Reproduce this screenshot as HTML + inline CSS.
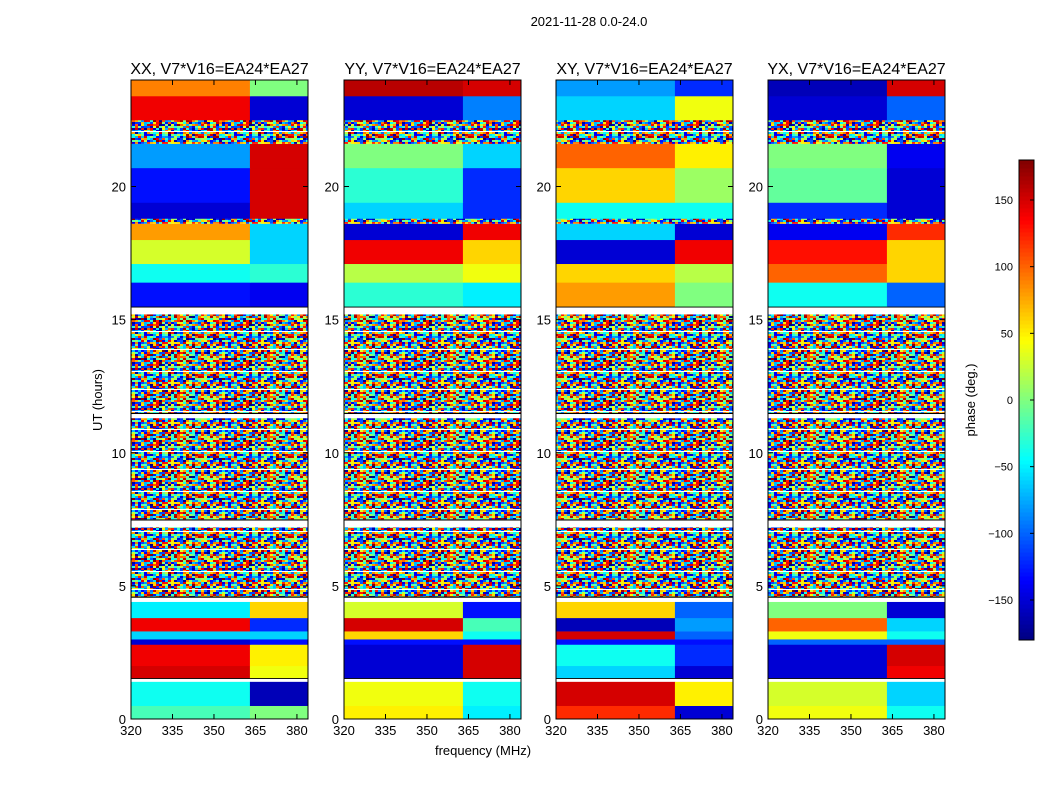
<!DOCTYPE html>
<html><head><meta charset="utf-8"><style>
body{margin:0;background:#fff;}
svg text{font-family:"Liberation Sans",sans-serif;}
</style></head><body>
<svg id="fig" width="1050" height="800" viewBox="0 0 1050 800" xmlns="http://www.w3.org/2000/svg">
<defs id="defs"></defs>
<text x="589" y="26" font-size="13" text-anchor="middle">2021-11-28 0.0-24.0</text>
<text transform="translate(102,400) rotate(-90)" font-size="13" text-anchor="middle">UT (hours)</text>
<text x="483" y="755" font-size="13" text-anchor="middle">frequency (MHz)</text>
<text transform="translate(975,400) rotate(-90)" font-size="13" text-anchor="middle">phase (deg.)</text>
<g id="panels"></g>
<g id="cbar"></g>
</svg>
<script>
const panelNames = ["XX","YY","XY","YX"];
const baseline = "V7*V16=EA24*EA27";
const bandEdges = [0,0.5,1.4,1.55,2.0,2.8,3.0,3.3,3.8,4.4,4.6,7.2,7.5,11.3,11.5,15.2,15.5,16.4,17.1,18.0,18.6,18.8,19.4,20.7,21.6,22.5,23.4,24];
const G = "gap", N = "noise";
const phaseLeftXX = [-20,-40,G,150,140,-150,-60,140,-50,G,N,G,N,G,N,G,-130,-40,30,80,N,-150,-130,-80,N,140,90];
const phaseRightXX = [0,-160,G,40,50,-130,-60,-120,60,G,N,G,N,G,N,G,-140,-30,-60,-60,N,150,150,150,N,-150,0];
const phaseLeftYY = [50,40,G,-150,-150,-130,60,150,30,G,N,G,N,G,N,G,-30,20,140,-150,N,-60,-30,0,N,-150,160];
const phaseRightYY = [-50,-40,G,150,150,-130,-40,-20,-130,G,N,G,N,G,N,G,-50,40,60,140,N,-120,-120,-60,N,-90,150];
const phaseLeftXY = [120,150,G,-60,-40,-130,150,-160,60,G,N,G,N,G,N,G,80,60,-150,-60,N,-40,60,100,N,-60,-80];
const phaseRightXY = [-150,50,G,-150,-120,-130,-100,-80,-100,G,N,G,N,G,N,G,0,20,140,-150,N,-40,10,50,N,40,-120];
const phaseLeftYX = [40,30,G,-150,-150,-100,40,100,0,G,N,G,N,G,N,G,-40,100,130,-140,N,-120,-10,0,N,-150,-160];
const phaseRightYX = [-40,-60,G,140,150,-100,-40,-60,-150,G,N,G,N,G,N,G,-100,60,60,120,N,-150,-150,-140,N,-100,150];
const splitFreq = 363;
const xTicks = [320,335,350,365,380];
const yTicks = [0,5,10,15,20];
const cbTicks = [150,100,50,0,-50,-100,-150];

const leftArr=[phaseLeftXX,phaseLeftYY,phaseLeftXY,phaseLeftYX];
const rightArr=[phaseRightXX,phaseRightYY,phaseRightXY,phaseRightYX];
const panelX=[131,344,556,768], PW=177, PT=80, PB=719;
const fMin=320,fMax=384;
const NS="http://www.w3.org/2000/svg";
function mk(t,a,p){const e=document.createElementNS(NS,t);for(const k in a)e.setAttribute(k,a[k]);p.appendChild(e);return e;}
function jet(v){let t=(v+180)/360;t=Math.max(0,Math.min(1,t));
 const r=Math.max(0,Math.min(1,1.5-Math.abs(4*t-3))),g=Math.max(0,Math.min(1,1.5-Math.abs(4*t-2))),b=Math.max(0,Math.min(1,1.5-Math.abs(4*t-1)));
 return `rgb(${Math.round(r*255)},${Math.round(g*255)},${Math.round(b*255)})`;}
// noise texture (styling tile)
const defs=document.getElementById('defs');
const TW=90,TH=40;
const pat=mk('pattern',{id:'noise',width:TW,height:TH,patternUnits:'userSpaceOnUse'},defs);
for(let i=0;i<TW/3;i++)for(let j=0;j<TH/2;j++){
 let h=Math.imul(i+1,374761393)+Math.imul(j+7,668265263);h=Math.imul(h^(h>>>13),1274126177);h=(h^(h>>>16))>>>0;
 mk('rect',{x:i*3,y:j*2,width:3,height:2,fill:jet((h%360)-180)},pat);}
mk('rect',{x:0,y:11,width:TW,height:1,fill:'#fff'},pat);
mk('rect',{x:0,y:29,width:TW,height:1,fill:'#fff'},pat);
const panels=document.getElementById('panels');
panelNames.forEach((nm,p)=>{
 const x0=panelX[p];
 const xs=f=>x0+(f-fMin)/(fMax-fMin)*PW;
 const ys=h=>PB-(h/24)*(PB-PT);
 const g=mk('g',{},panels);
 
 
 const t=mk('text',{x:x0+PW/2,y:74,'font-size':16,'text-anchor':'middle'},g);t.textContent=nm+", "+baseline;
 
 
 for(let b=0;b<bandEdges.length-1;b++){
  const y1=ys(bandEdges[b+1]),y2=ys(bandEdges[b]);
  const L=leftArr[p][b],R=rightArr[p][b];
  if(L===G){const r=mk('rect',{x:x0,y:y1,width:PW,height:y2-y1,fill:'#fff'},g);
   
   mk('rect',{x:x0,y:y1,width:PW,height:1.2,fill:'#000'},g);continue;}
  if(L===N){const r=mk('rect',{x:x0,y:y1,width:PW,height:y2-y1,fill:'url(#noise)'},g);
   continue;}
  const c1=mk('rect',{x:xs(fMin),y:y1,width:xs(splitFreq)-xs(fMin)+0.5,height:y2-y1+0.3,fill:jet(L)},g);
  
  const c2=mk('rect',{x:xs(splitFreq),y:y1,width:xs(fMax)-xs(splitFreq),height:y2-y1+0.3,fill:jet(R)},g);
  
 }
 mk('rect',{x:x0,y:PT,width:PW,height:PB-PT,fill:'none',stroke:'#000','stroke-width':1},g);
 xTicks.forEach(v=>{const X=xs(v);mk('line',{x1:X,x2:X,y1:PB,y2:PB-5,stroke:'#000'},g);mk('line',{x1:X,x2:X,y1:PT,y2:PT+5,stroke:'#000'},g);
  const tx=mk('text',{x:X,y:PB+16,'font-size':13,'text-anchor':'middle'},g);tx.textContent=v;
  });
 yTicks.forEach(v=>{const Y=ys(v);mk('line',{x1:x0,x2:x0+5,y1:Y,y2:Y,stroke:'#000'},g);mk('line',{x1:x0+PW,x2:x0+PW-5,y1:Y,y2:Y,stroke:'#000'},g);
  const ty=mk('text',{x:x0-5,y:Y+5,'font-size':13,'text-anchor':'end'},g);ty.textContent=v;
  });
});
// colorbar
const cb=document.getElementById('cbar');


const CX=1019,CW=15,CT=160,CB=640;
const cy=v=>CB-(v+180)/360*(CB-CT);
for(let i=0;i<120;i++){const v0=-180+i*3;mk('rect',{x:CX,y:cy(v0+3),width:CW,height:(CB-CT)/120+0.5,fill:jet(v0+1.5)},cb);}
mk('rect',{x:CX,y:CT,width:CW,height:CB-CT,fill:'none',stroke:'#000'},cb);
cbTicks.forEach(v=>{const Y=cy(v);mk('line',{x1:CX+CW-4,x2:CX+CW,y1:Y,y2:Y,stroke:'#000'},cb);
 const t=mk('text',{x:CX-6,y:Y+4,'font-size':11,'text-anchor':'end'},cb);t.textContent=v<0?'\u2212'+(-v):v;
 });
</script>
</body></html>
